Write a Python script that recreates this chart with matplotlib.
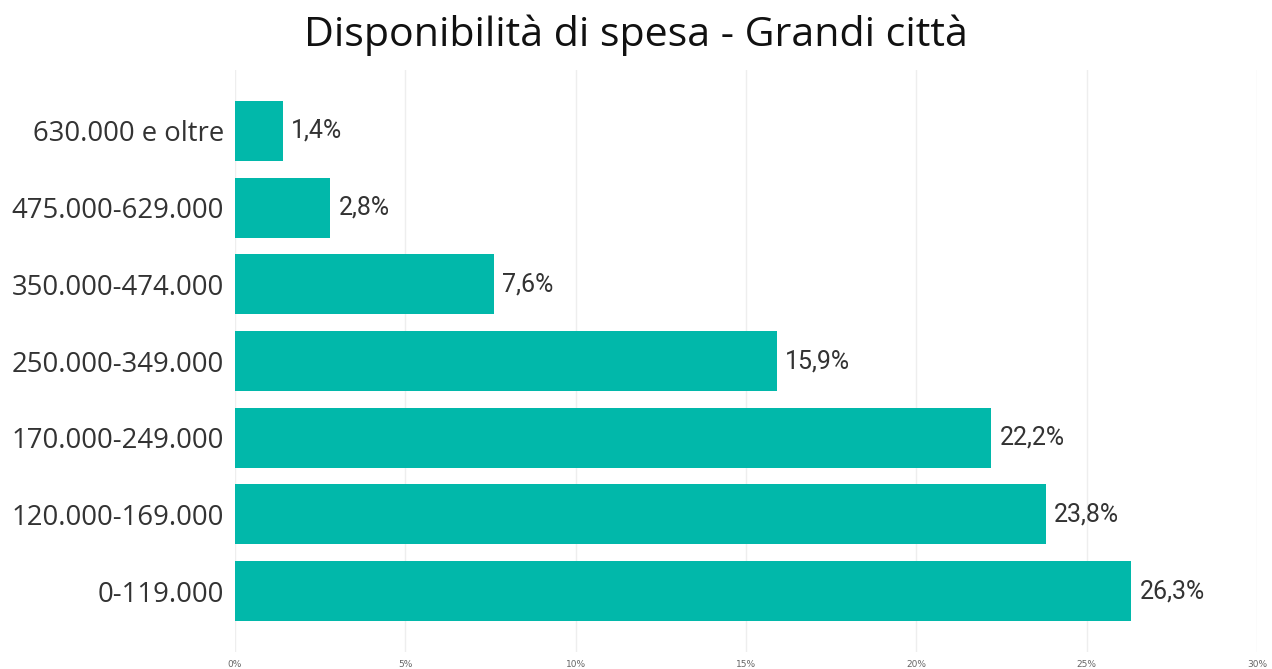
import matplotlib
matplotlib.use('Agg')
import matplotlib.pyplot as plt
from matplotlib.ticker import FuncFormatter

categories = ['0-119.000', '120.000-169.000', '170.000-249.000', '250.000-349.000',
              '350.000-474.000', '475.000-629.000', '630.000 e oltre']
values = [26.3, 23.8, 22.2, 15.9, 7.6, 2.8, 1.4]
xticks = [0, 5, 10, 15, 20, 25, 30]

BAR_COLOR = '#01B8AA'
TEXT_COLOR = '#333333'

fig = plt.figure(figsize=(12.72, 6.69), dpi=100)
ax = fig.add_axes([235 / 1272, 1 - 652 / 669, (1257 - 235) / 1272, (652 - 70) / 669])

y = range(len(categories))
ax.barh(y, values, height=0.78, color=BAR_COLOR)
for yi, v in zip(y, values):
    ax.text(v + 0.25, yi, f'{v:.1f}%'.replace('.', ','), va='center', ha='left',
            fontsize=18, color=TEXT_COLOR, family='Roboto')

ax.set_xlim(0, 30)
ax.set_ylim(-0.795, 6.795)
ax.set_yticks(list(y))
ax.set_yticklabels(categories, fontsize=19.8, color=TEXT_COLOR, family='Open Sans')
ax.set_xticks(xticks)
ax.xaxis.set_major_formatter(FuncFormatter(lambda x, _: f'{x:.0f}%'))
ax.tick_params(axis='x', labelsize=6.5, colors='#666666', length=0, pad=6)
ax.tick_params(axis='y', length=0, pad=8)
ax.grid(axis='x', color='#eeeeee', linewidth=1)
ax.set_axisbelow(True)
for s in ax.spines.values():
    s.set_visible(False)

fig.text(0.5, 1 - 35 / 669, 'Disponibilità di spesa - Grandi città', ha='center', va='center',
         fontsize=29.6, color='#111111', family='Open Sans')

fig.savefig('out.png', dpi=100)
